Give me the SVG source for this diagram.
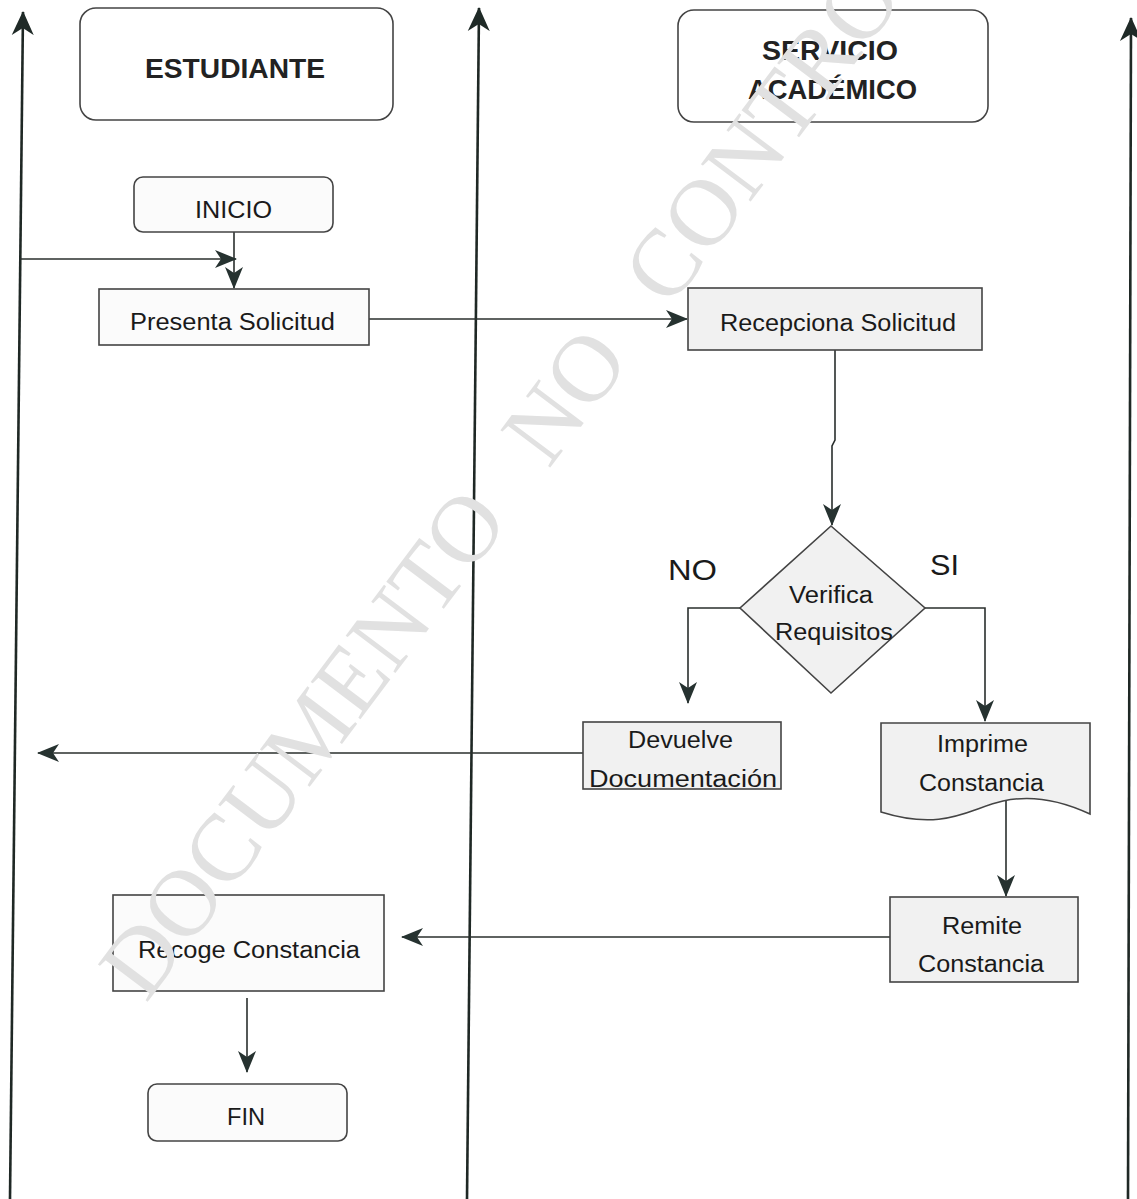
<svg xmlns="http://www.w3.org/2000/svg" width="1137" height="1199" viewBox="0 0 1137 1199">
  <style>
    .lane { stroke: #1f2825; stroke-width: 2.6; fill: none; }
    .link { stroke: #2a2f2d; stroke-width: 1.6; fill: none; }
    .box { stroke: #444444; stroke-width: 1.6; }
    .pale { fill: #fbfbfb; }
    .grey { fill: #f1f1f1; }
    .head { fill: #ffffff; }
    .lbl { font-family: "Liberation Sans", Arial, sans-serif; font-size: 23px; fill: #1a1a1a; text-anchor: start; }
    .ttl { font-family: "Liberation Sans", Arial, sans-serif; font-size: 27px; font-weight: bold; fill: #222; }
    .yn { font-family: "Liberation Sans", Arial, sans-serif; font-size: 30px; fill: #1a1a1a; }
    .wm { font-family: "Liberation Serif", "Times New Roman", serif; font-size: 95px; fill: #e1e1e1; word-spacing: 40px; }
  </style>
  <defs>
    <marker id="tip" viewBox="0 0 22 20" refX="21" refY="10" markerWidth="22" markerHeight="20" markerUnits="userSpaceOnUse" orient="auto">
      <path d="M0,1 L22,10 L0,19 L6,10 Z" fill="#263230"/>
    </marker>
    <marker id="laneTip" viewBox="0 0 24 24" refX="23" refY="12" markerWidth="24" markerHeight="24" markerUnits="userSpaceOnUse" orient="auto">
      <path d="M0,1 L24,12 L0,23 L7,12 Z" fill="#1f2a27"/>
    </marker>
  </defs>

  <rect x="0" y="0" width="1137" height="1199" fill="#ffffff"/>

  <!-- swimlane dividers, arrowheads at the top -->
  <g id="lanes">
    <line class="lane" x1="10" y1="1199" x2="23" y2="12" marker-end="url(#laneTip)"/>
    <line class="lane" x1="467" y1="1199" x2="479" y2="8" marker-end="url(#laneTip)"/>
    <line class="lane" x1="1128" y1="1199" x2="1131" y2="18" marker-end="url(#laneTip)"/>
  </g>

  <!-- lane headers -->
  <g id="hdr-estudiante">
    <rect class="box head" x="80" y="8" width="313" height="112" rx="16"/>
    <text class="ttl" x="145" y="78" textLength="180" lengthAdjust="spacingAndGlyphs">ESTUDIANTE</text>
  </g>
  <g id="hdr-servicio">
    <rect class="box head" x="678" y="10" width="310" height="112" rx="16"/>
    <text class="ttl" x="762" y="60" textLength="136" lengthAdjust="spacingAndGlyphs">SERVICIO</text>
    <text class="ttl" x="748" y="99" textLength="169" lengthAdjust="spacingAndGlyphs">ACADÉMICO</text>
  </g>

  <!-- connectors -->
  <g id="connectors">
    <path class="link" d="M234,232 V288" marker-end="url(#tip)"/>
    <path class="link" d="M20,259 H236" marker-end="url(#tip)"/>
    <path class="link" d="M369,319 H687" marker-end="url(#tip)"/>
    <path class="link" d="M835,350 V440 L832,446 V525" marker-end="url(#tip)"/>
    <path class="link" d="M740,608 H688 V703" marker-end="url(#tip)"/>
    <path class="link" d="M925,608 H985 V721" marker-end="url(#tip)"/>
    <path class="link" d="M583,753 H38" marker-end="url(#tip)"/>
    <path class="link" d="M1006,801 V896" marker-end="url(#tip)"/>
    <path class="link" d="M890,937 H402" marker-end="url(#tip)"/>
    <path class="link" d="M247,998 V1072" marker-end="url(#tip)"/>
  </g>

  <!-- student lane -->
  <g id="inicio">
    <rect class="box pale" x="134" y="177" width="199" height="55" rx="9"/>
    <text class="lbl" x="195" y="218" textLength="77" lengthAdjust="spacingAndGlyphs">INICIO</text>
  </g>
  <g id="presenta">
    <rect class="box pale" x="99" y="289" width="270" height="56"/>
    <text class="lbl" x="130" y="330" textLength="205" lengthAdjust="spacingAndGlyphs">Presenta Solicitud</text>
  </g>
  <g id="recoge">
    <rect class="box pale" x="113" y="895" width="271" height="96"/>
    <text class="lbl" x="138" y="958" textLength="222" lengthAdjust="spacingAndGlyphs">Recoge Constancia</text>
  </g>
  <g id="fin">
    <rect class="box pale" x="148" y="1084" width="199" height="57" rx="9"/>
    <text class="lbl" x="227" y="1125" textLength="38" lengthAdjust="spacingAndGlyphs">FIN</text>
  </g>

  <!-- academic service lane -->
  <g id="recepciona">
    <rect class="box grey" x="688" y="288" width="294" height="62"/>
    <text class="lbl" x="720" y="331" textLength="236" lengthAdjust="spacingAndGlyphs">Recepciona Solicitud</text>
  </g>
  <g id="verifica">
    <path class="box grey" d="M831,526 L925,608 L831,693 L740,608 Z"/>
    <text class="lbl" x="789" y="603" textLength="84" lengthAdjust="spacingAndGlyphs">Verifica</text>
    <text class="lbl" x="775" y="640" textLength="118" lengthAdjust="spacingAndGlyphs">Requisitos</text>
  </g>
  <g id="labels">
    <text class="yn" x="668" y="580" textLength="49" lengthAdjust="spacingAndGlyphs">NO</text>
    <text class="yn" x="930" y="575" textLength="29" lengthAdjust="spacingAndGlyphs">SI</text>
  </g>
  <g id="devuelve">
    <rect class="box grey" x="583" y="722" width="198" height="67"/>
    <text class="lbl" x="628" y="748" textLength="105" lengthAdjust="spacingAndGlyphs">Devuelve</text>
    <text class="lbl" x="589" y="787" textLength="188" lengthAdjust="spacingAndGlyphs">Documentación</text>
  </g>
  <g id="imprime">
    <path class="box grey" d="M881,723 H1090 V814 C1060,800 1030,795 1003,801 C970,808 945,832 881,812 Z"/>
    <text class="lbl" x="937" y="752" textLength="91" lengthAdjust="spacingAndGlyphs">Imprime</text>
    <text class="lbl" x="919" y="791" textLength="125" lengthAdjust="spacingAndGlyphs">Constancia</text>
  </g>
  <g id="remite">
    <rect class="box grey" x="890" y="897" width="188" height="85"/>
    <text class="lbl" x="942" y="934" textLength="80" lengthAdjust="spacingAndGlyphs">Remite</text>
    <text class="lbl" x="918" y="972" textLength="126" lengthAdjust="spacingAndGlyphs">Constancia</text>
  </g>

  <!-- light grey stamp printed over the sheet -->
  <g id="stamp">
    <text class="wm" transform="translate(146,1004) rotate(-53)">DOCUMENTO NO CONTRO</text>
  </g>
</svg>
